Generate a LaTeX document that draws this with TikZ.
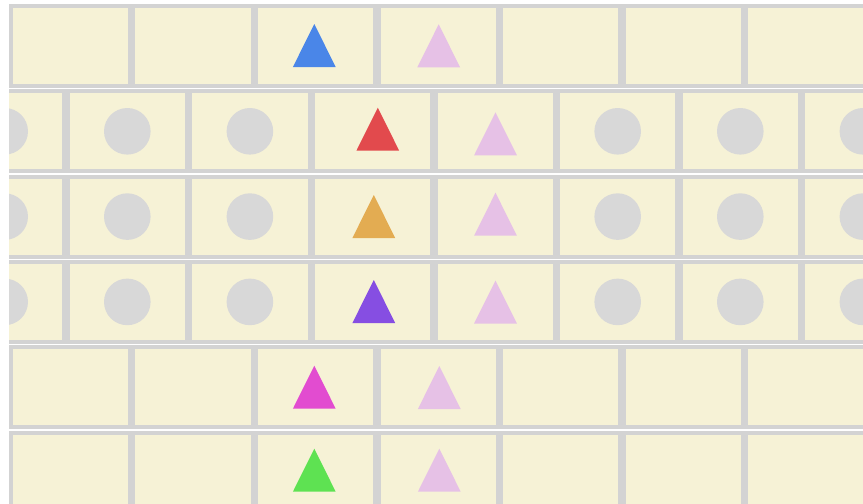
\documentclass[tikz,border=0pt]{standalone}
\usetikzlibrary{calc}
\definecolor{cream}{RGB}{246,242,214}
\definecolor{rim}{RGB}{211,211,211}
\definecolor{dot}{RGB}{216,216,216}
\definecolor{tblue}{RGB}{74,134,232}
\definecolor{tpink}{RGB}{230,193,230}
\definecolor{tred}{RGB}{226,74,77}
\definecolor{torange}{RGB}{227,172,82}
\definecolor{tpurple}{RGB}{134,78,226}
\definecolor{tmagenta}{RGB}{226,76,208}
\definecolor{tgreen}{RGB}{94,226,82}

\begin{document}
\begin{tikzpicture}[x=0.02cm, y=-0.02cm]
\useasboundingbox (0,0) rectangle (863,504);
\def\w{122.6}
\def\h{85.3}
\begin{scope}
\clip (9,0) rectangle (863,504);
% rows with aligned cells
\foreach \r in {0,4,5} {
    \fill[rim] (9, 4+\r*\h) rectangle (880, 88+\r*\h);
    \foreach \i in {0,...,6} {
        \fill[cream] (9+\i*\w+3.7, 8+\r*\h) rectangle (9+\i*\w+\w-3.7, 84+\r*\h);
    }
}
% shifted rows with dots
\foreach \r in {1,2,3} {
    \fill[rim] (9, 4+\r*\h) rectangle (880, 88+\r*\h);
    \foreach \i in {-1,...,6} {
        \fill[cream] (66+\i*\w+3.7, 8+\r*\h) rectangle (66+\i*\w+\w-3.7, 84+\r*\h);
    }
    \foreach \i in {-1,0,1,4,5,6} {
        \fill[dot] (66+\i*\w+0.5*\w, 46+\r*\h) circle (23.3);
    }
}
\end{scope}
% triangles
\foreach \x/\y/\c in {314.3/24/tblue, 438.7/24.3/tpink,
                      377.8/107.7/tred, 495.5/112.3/tpink,
                      373.8/195/torange, 495.5/192.7/tpink,
                      373.8/280/tpurple, 495.5/280.5/tpink,
                      314.3/365.7/tmagenta, 439.3/366/tpink,
                      314.3/448.7/tgreen, 439.3/448.7/tpink} {
    \fill[\c] (\x-21.4, \y+43) -- (\x, \y) -- (\x+21.4, \y+43) -- cycle;
}
\end{tikzpicture}
\end{document}
